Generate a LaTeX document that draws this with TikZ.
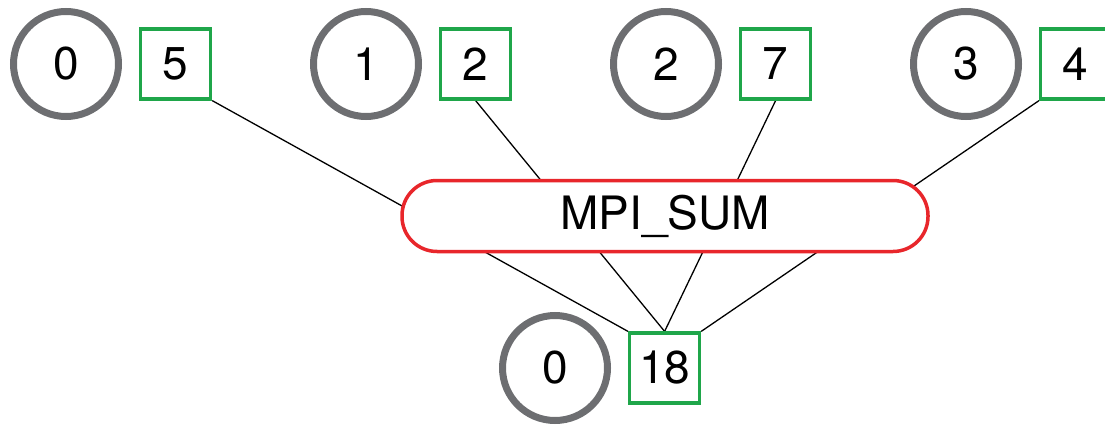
\documentclass[tikz,border=0pt]{standalone}
\usepackage{fontspec}
\setmainfont{TeX Gyre Heros}
\usetikzlibrary{positioning}
\pgfdeclarelayer{back}
\pgfsetlayers{back,main}
\definecolor{rank-color}{HTML}{6D6E71}
\definecolor{buf-color}{HTML}{1FA64A}
\definecolor{op-color}{HTML}{E8262B}

\begin{document}
\begin{tikzpicture}[x=1pt, y=-1pt, node distance=17pt,
                every node/.append style={font=\fontsize{46}{46}\selectfont},
                rank/.style={circle, draw=rank-color, line width=7pt, minimum size=105pt, inner sep=0pt},
                buf/.style={draw=buf-color, line width=3.2pt, minimum size=70pt, inner sep=0pt},
                op/.style={draw=op-color, fill=white, line width=3.5pt, rounded corners=35pt,
                           minimum width=526pt, minimum height=71pt},
                link/.style={line width=1.3pt}]
               \useasboundingbox (0,0) rectangle (1105,425);

               \node [rank] (r0) at (66,64)  {0};
               \node [buf, right=of r0] (b0) {5};
               \node [rank] (r1) at (366,64) {1};
               \node [buf, right=of r1] (b1) {2};
               \node [rank] (r2) at (666,64) {2};
               \node [buf, right=of r2] (b2) {7};
               \node [rank] (r3) at (966,64) {3};
               \node [buf, right=of r3] (b3) {4};

               \node [op] (sum) at (665,216) {MPI\_SUM};

               \node [rank] (root) at (555,368) {0};
               \node [buf, right=of root] (res) {18};

               \begin{pgfonlayer}{back}
                 \draw[link] (b0.south east) -- (res.north west);
                 \draw[link] (b1.south) -- (res.north);
                 \draw[link] (b2.south) -- (res.north);
                 \draw[link] (b3.south west) -- (res.north east);
               \end{pgfonlayer}
        \end{tikzpicture}
\end{document}
